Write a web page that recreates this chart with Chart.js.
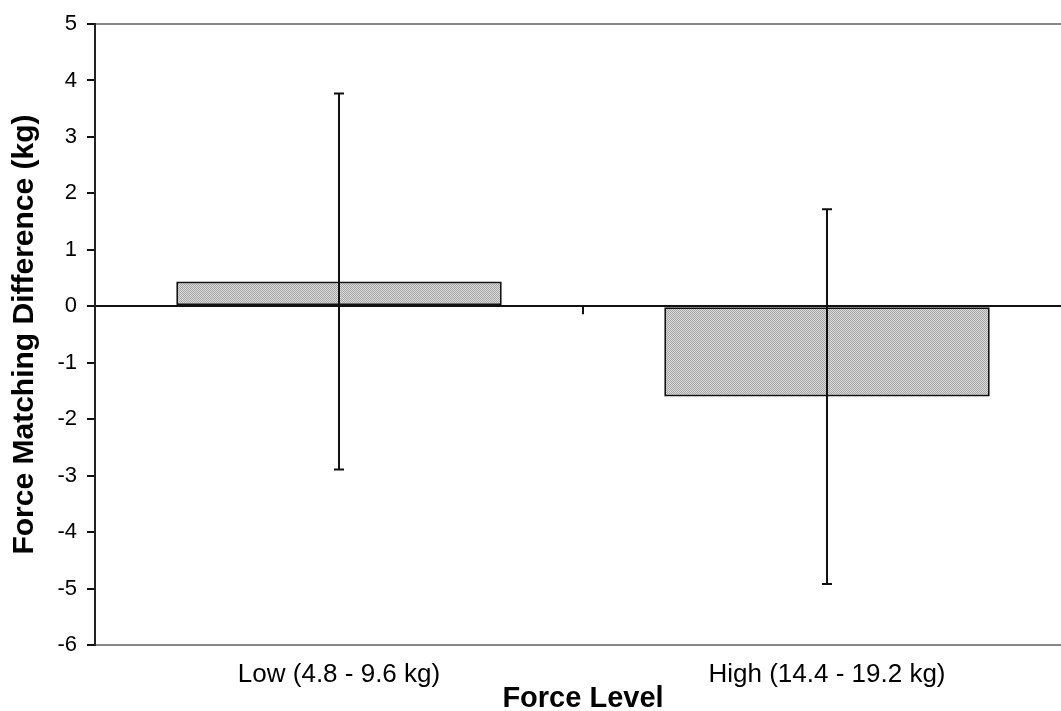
<!DOCTYPE html>
<html>
<head>
<meta charset="utf-8">
<script src="https://cdn.jsdelivr.net/npm/chart.js@4"></script>
<style>
  html, body { margin: 0; padding: 0; background: #fff; overflow: hidden; width: 1061px; height: 711px; }
  #wrap { width: 1071px; height: 711px; }
</style>
</head>
<body>
<div id="wrap"><canvas id="BarChart" width="1071" height="711"></canvas></div>
<script>
// data
var categories = ['Low (4.8 - 9.6 kg)', 'High (14.4 - 19.2 kg)'];
var means = [0.44, -1.60];
var errors = [3.33, 3.32];
var yMin = -6, yMax = 5, yStep = 1;

// stippled grey fill like the original
function makePattern() {
    var c = document.createElement('canvas');
    c.width = 2; c.height = 2;
    var g = c.getContext('2d');
    g.fillStyle = '#d8d8d8'; g.fillRect(0, 0, 2, 2);
    g.fillStyle = '#a8a8a8'; g.fillRect(0, 0, 1, 1); g.fillRect(1, 1, 1, 1);
    return g.createPattern(c, 'repeat');
}

var errorBars = {
    id: 'errorBars',
    afterDatasetsDraw: function (chart) {
        var ctx = chart.ctx, x = chart.scales.x, y = chart.scales.y;
        ctx.save();
        ctx.strokeStyle = '#111';
        ctx.lineWidth = 2;
        for (var i = 0; i < means.length; i++) {
            var px = x.getPixelForValue(i);
            var top = y.getPixelForValue(means[i] + errors[i]);
            var bot = y.getPixelForValue(means[i] - errors[i]);
            ctx.beginPath();
            ctx.moveTo(px, top); ctx.lineTo(px, bot);
            ctx.moveTo(px - 5, top); ctx.lineTo(px + 5, top);
            ctx.moveTo(px - 5, bot); ctx.lineTo(px + 5, bot);
            ctx.stroke();
        }
        // category divider tick on the zero line
        var y0 = y.getPixelForValue(0);
        for (var j = 0; j < categories.length - 1; j++) {
            var mx = (x.getPixelForValue(j) + x.getPixelForValue(j + 1)) / 2;
            ctx.beginPath();
            ctx.moveTo(mx, y0); ctx.lineTo(mx, y0 + 8);
            ctx.stroke();
        }
        ctx.restore();
    }
};

var ctx = document.getElementById('BarChart');
var chart = new Chart(ctx, {
    type: 'bar',
    data: {
        labels: categories,
        datasets: [{
            data: means,
            backgroundColor: makePattern(),
            borderColor: '#111',
            borderWidth: 2,
            borderSkipped: false,
            categoryPercentage: 1,
            barPercentage: 0.667
        }]
    },
    options: {
        responsive: false,
        animation: false,
        layout: { padding: { top: 24, left: 0, right: 0, bottom: 0 } },
        plugins: { legend: { display: false }, tooltip: { enabled: false } },
        scales: {
            x: {
                grid: { display: false, drawTicks: false },
                border: { display: false },
                ticks: { color: '#000', padding: 14, font: { family: 'Liberation Sans, Arial', size: 26 } },
                title: {
                    display: true, text: 'Force Level', color: '#000',
                    font: { family: 'Liberation Sans, Arial', size: 29, weight: 'bold', lineHeight: 0.8 },
                    padding: 0
                },
                afterFit: function (s) { s.height = 66; }
            },
            y: {
                min: yMin, max: yMax,
                ticks: { stepSize: yStep, color: '#000', padding: 10, font: { family: 'Liberation Sans, Arial', size: 22 } },
                grid: {
                    lineWidth: 2,
                    tickLength: 8,
                    tickColor: '#111',
                    color: function (c) {
                        if (c.tick.value === 0) return '#111';
                        if (c.tick.value === yMax || c.tick.value === yMin) return '#888';
                        return 'rgba(0,0,0,0)';
                    }
                },
                border: { color: '#222', width: 2 },
                title: {
                    display: true, text: 'Force Matching Difference (kg)', color: '#000',
                    font: { family: 'Liberation Sans, Arial', size: 30, weight: 'bold' },
                    padding: { top: 7, bottom: 0 }
                },
                afterFit: function (s) { s.width = 95; }
            }
        }
    },
    plugins: [errorBars]
});
</script>
</body>
</html>
